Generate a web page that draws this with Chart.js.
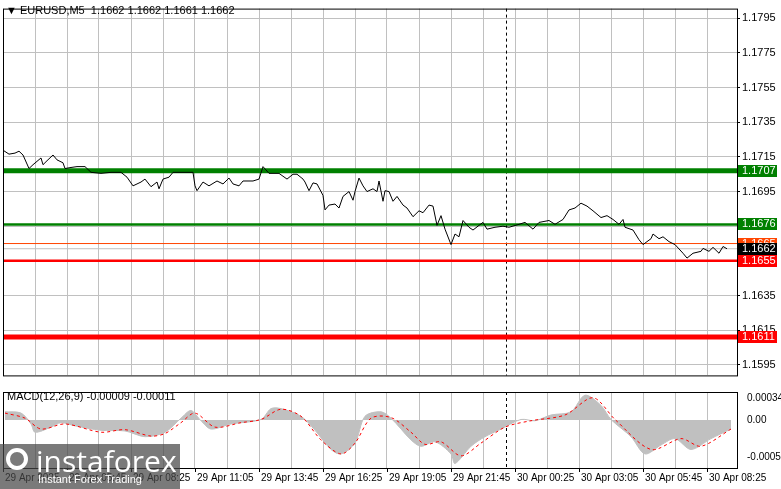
<!DOCTYPE html>
<html>
<head>
<meta charset="utf-8">
<script src="https://cdn.jsdelivr.net/npm/chart.js@4"></script>
<style>
  body { margin: 0; background: #fff; width: 781px; height: 489px; overflow: hidden; position: relative; font-family: "Liberation Sans", Arial, sans-serif; }
  canvas { position: absolute; }
  #main { left: 3px; top: 0; }
  #macd { left: 3px; top: 384px; }
  .hdr { position: absolute; font-size: 11px; color: #000; }
  #wm { position: absolute; left: 0; top: 444px; width: 180px; height: 45px; background: rgba(70,70,70,0.72); color: #fff; }
</style>
</head>
<body>
<canvas id="main" width="778" height="384"></canvas>
<canvas id="macd" width="778" height="105"></canvas>
<div class="hdr" style="left:6px;top:4px">▼ EURUSD,M5&nbsp; 1.1662 1.1662 1.1661 1.1662</div>
<div class="hdr" style="left:7px;top:390px">MACD(12,26,9) -0.00009 -0.00011</div>
<div id="wm">
  <div style="position:absolute;left:6px;top:4px;width:22px;height:22px;border:4px solid #fff;border-radius:50%;box-sizing:border-box"></div>
  <div style="position:absolute;left:36px;top:-4px;font-size:30px;font-family:'Open Sans',sans-serif">instaforex</div>
  <div style="position:absolute;left:38px;top:29px;font-size:11px">Instant Forex Trading</div>
</div>
<script>
// price line, bar index (5 min bars) and close values
const priceBars = [0,3,6,8,10,13,15,19,20,22,25,27,30,31,34,37,41,44,49,54,59,62,65,69,71,74,77,78,80,83,85,90,95,96,97,100,103,107,110,113,115,118,120,125,128,130,133,138,142,145,147,150,151,153,155,157,160,161,163,166,168,170,173,175,176,178,180,182,185,187,188,190,191,193,195,197,200,202,205,208,210,213,215,217,219,221,224,226,228,230,233,235,238,240,242,246,250,253,258,261,265,268,273,276,280,283,286,289,292,295,299,302,305,308,310,311,315,318,320,324,325,328,330,333,336,340,342,345,349,350,353,355,358,360,362];
const priceValues = [1.17189,1.17166,1.17172,1.17183,1.17161,1.17083,1.17105,1.17144,1.17105,1.17128,1.17161,1.17133,1.17116,1.17083,1.17089,1.17094,1.17094,1.17061,1.17055,1.17061,1.17061,1.17033,1.16983,1.17005,1.17022,1.16978,1.17005,1.16966,1.17022,1.17033,1.17061,1.17061,1.17061,1.16983,1.16955,1.17005,1.16983,1.17011,1.16994,1.17028,1.16994,1.16983,1.17011,1.17011,1.17022,1.17094,1.17055,1.17055,1.17022,1.17050,1.17050,1.17022,1.17005,1.16955,1.17000,1.16994,1.16928,1.16844,1.16872,1.16878,1.16855,1.16922,1.16950,1.16900,1.16950,1.17028,1.16983,1.16950,1.16966,1.16950,1.17011,1.16894,1.16955,1.16950,1.16894,1.16922,1.16872,1.16855,1.16805,1.16839,1.16828,1.16872,1.16866,1.16755,1.16811,1.16733,1.16644,1.16705,1.16689,1.16783,1.16744,1.16728,1.16755,1.16772,1.16733,1.16744,1.16750,1.16744,1.16761,1.16772,1.16733,1.16772,1.16783,1.16761,1.16789,1.16844,1.16855,1.16883,1.16866,1.16839,1.16800,1.16811,1.16789,1.16761,1.16789,1.16744,1.16728,1.16672,1.16644,1.16678,1.16705,1.16678,1.16689,1.16661,1.16644,1.16594,1.16566,1.16594,1.16605,1.16622,1.16605,1.16628,1.16594,1.16633,1.16620];

const histBars = [1,9,14,16,24,29,36,49,61,71,81,89,94,99,104,114,129,134,139,149,156,164,169,176,181,189,194,204,209,216,224,226,234,241,249,259,266,274,284,291,299,304,314,321,329,336,344,354,364];
const histValues = [0.00013,0.00011,-0.00006,-0.00019,-0.00011,-0.00004,-0.00009,-0.00016,-0.00017,-0.00026,-0.00019,0.00003,0.00015,-0.00001,-0.00014,-0.00006,0.00001,0.00018,0.00018,0.00006,-0.00016,-0.00046,-0.00053,-0.00036,0.00006,0.00013,0.00003,-0.00031,-0.00041,-0.00034,-0.00053,-0.00068,-0.00041,-0.00026,-0.00014,0.00001,-0.00001,0.00008,0.00013,0.00039,0.00023,0.00001,-0.00026,-0.00053,-0.00039,-0.00029,-0.00046,-0.00029,-0.00014];

const signalBars = [1,11,19,31,49,61,74,81,89,96,106,119,129,139,149,159,169,176,184,194,204,211,219,229,239,251,264,281,295,306,324,339,349,364];
const signalValues = [0.00011,0.00003,-0.00014,-0.00006,-0.00019,-0.00015,-0.00025,-0.00021,-0.00004,0.00011,-0.00011,-0.00004,0.00001,0.00017,0.00006,-0.00031,-0.00053,-0.00036,0.00003,0.00004,-0.00019,-0.00038,-0.00034,-0.00056,-0.00036,-0.00011,-0.00001,0.00008,0.00035,0.00001,-0.00046,-0.00029,-0.00041,-0.00014];

const priceTicks = [1.1795,1.1775,1.1755,1.1735,1.1715,1.1695,1.1675,1.1655,1.1635,1.1615,1.1595];
const macdTicks = [0.00034, 0, -0.00058];
const timeLabels = ['29 Apr 2025','29 Apr 05:45','29 Apr 08:25','29 Apr 11:05','29 Apr 13:45','29 Apr 16:25','29 Apr 19:05','29 Apr 21:45','30 Apr 00:25','30 Apr 03:05','30 Apr 05:45','30 Apr 08:25'];
const timeLabelBars = [0,32,64,96,128,160,192,224,256,288,320,352];
const levels = [
  { v: 1.1707, color: '#008000', w: 5, label: '1.1707' },
  { v: 1.1676, color: '#008000', w: 2.5, label: '1.1676' },
  { v: 1.1665, color: '#ff4500', w: 1, label: '1.1665' },
  { v: 1.1662, color: '#c0c0c0', w: 1, label: '1.1662', box: '#000' },
  { v: 1.1655, color: '#ff0000', w: 2.5, label: '1.1655' },
  { v: 1.1611, color: '#ff0000', w: 5, label: '1.1611' }
];
const separatorBar = 251.5;
const barCount = 367;

const pts = (xs, ys) => xs.map((x, i) => ({ x: x, y: ys[i] }));
const gridTicks = [];
for (let b = 0; b <= barCount; b += 16) gridTicks.push({ value: b });

function xAxis() {
  return {
    type: 'linear', min: 0, max: barCount,
    afterBuildTicks: s => { s.ticks = gridTicks.slice(); },
    afterFit: s => { s.height = 0; },
    ticks: { display: false },
    grid: { color: '#c0c0c0', borderDash: [3, 3], drawTicks: false },
    border: { display: false }
  };
}

const panelPlugin = {
  id: 'panel',
  beforeDatasetsDraw(chart) {
    const { ctx, chartArea: a, scales } = chart;
    ctx.save();
    const xs = scales.x.getPixelForValue(separatorBar);
    ctx.strokeStyle = '#000'; ctx.lineWidth = 1; ctx.setLineDash([3, 3]);
    ctx.beginPath(); ctx.moveTo(Math.round(xs) + 0.5, a.top); ctx.lineTo(Math.round(xs) + 0.5, a.bottom); ctx.stroke();
    ctx.setLineDash([]);
    if (chart.canvas.id === 'main') {
      levels.forEach(l => {
        const y = scales.y.getPixelForValue(l.v);
        ctx.strokeStyle = l.color; ctx.lineWidth = l.w;
        ctx.beginPath(); ctx.moveTo(a.left, y); ctx.lineTo(a.right, y); ctx.stroke();
      });
    }
    ctx.restore();
  },
  afterDraw(chart) {
    const { ctx, chartArea: a, scales } = chart;
    ctx.save();
    ctx.strokeStyle = '#000'; ctx.lineWidth = 1;
    ctx.strokeRect(a.left + 0.5, a.top + 0.5, a.right - a.left, a.bottom - a.top);
    if (chart.canvas.id === 'main') {
      ctx.font = '11px "Liberation Sans", Arial';
      levels.forEach(l => {
        const y = Math.round(scales.y.getPixelForValue(l.v));
        ctx.fillStyle = l.box || l.color;
        ctx.fillRect(a.right + 1, y - 6, 39, 12);
        ctx.fillStyle = '#fff'; ctx.textBaseline = 'middle';
        ctx.fillText(l.label, a.right + 5, y);
      });
    } else {
      ctx.font = '10px "Liberation Sans", Arial';
      ctx.fillStyle = '#000'; ctx.textBaseline = 'middle';
      timeLabelBars.forEach((b, i) => {
        const x = scales.x.getPixelForValue(b);
        ctx.beginPath(); ctx.moveTo(x + 0.5, a.bottom); ctx.lineTo(x + 0.5, a.bottom + 4); ctx.stroke();
        ctx.fillText(timeLabels[i], x + 2, a.bottom + 10);
      });
    }
    ctx.restore();
  }
};

function yAxis(ticks, min, max, fmt, size) {
  return {
    position: 'right', min: min, max: max,
    afterBuildTicks: s => { s.ticks = ticks.map(v => ({ value: v })); },
    afterFit: s => { s.width = 44; },
    ticks: { color: '#000', font: { size: size, family: '"Liberation Sans", Arial' }, padding: 2, callback: fmt },
    grid: { color: '#c0c0c0', borderDash: [3, 3], tickColor: '#000', tickLength: 3, tickBorderDash: [] },
    border: { display: false }
  };
}

new Chart(document.getElementById('main'), {
  type: 'line',
  data: { datasets: [{ data: pts(priceBars, priceValues), borderColor: '#000', borderWidth: 1, pointRadius: 0, tension: 0 }] },
  options: {
    responsive: false, animation: false, events: [],
    layout: { padding: { top: 3, left: 0, right: 0, bottom: 0 } },
    plugins: { legend: { display: false }, tooltip: { enabled: false } },
    scales: { x: xAxis(), y: yAxis(priceTicks, 1.15889, 1.18006, v => v.toFixed(4), 11) }
  },
  plugins: [panelPlugin]
});

const macdY = yAxis(macdTicks, -0.00075, 0.00044, v => v === 0 ? '0.00' : v.toFixed(5), 10);
macdY.grid = { display: false };
new Chart(document.getElementById('macd'), {
  type: 'line',
  data: { datasets: [
    { data: pts(signalBars, signalValues), borderColor: '#ff0000', borderWidth: 1, borderDash: [3, 3], pointRadius: 0, tension: 0.3 },
    { data: pts(histBars, histValues), borderColor: '#c0c0c0', backgroundColor: '#c0c0c0', borderWidth: 1, fill: 'origin', pointRadius: 0, tension: 0.3 }
  ] },
  options: {
    responsive: false, animation: false, events: [],
    layout: { padding: { top: 3, left: 0, right: 0, bottom: 21 } },
    plugins: { legend: { display: false }, tooltip: { enabled: false } },
    scales: { x: xAxis(), y: macdY }
  },
  plugins: [panelPlugin]
});
</script>
</body>
</html>
